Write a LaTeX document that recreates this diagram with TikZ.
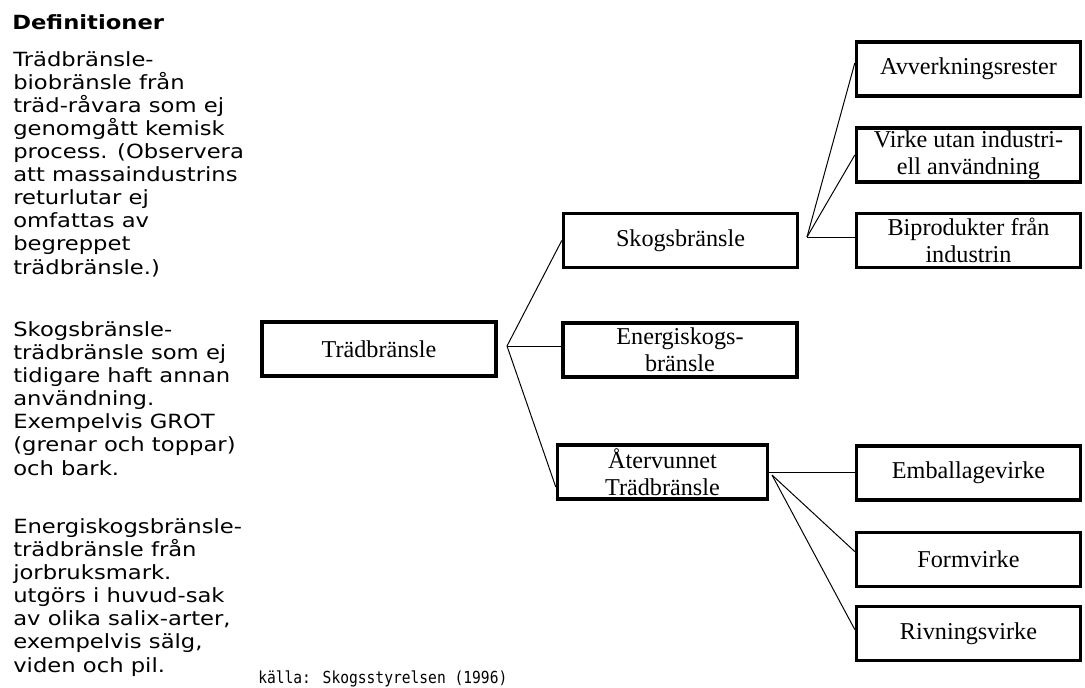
\documentclass[tikz,border=0pt]{standalone}
\usepackage{fontspec}
\setmainfont{Liberation Serif}
\newfontfamily\verd[FakeStretch=1.16]{DejaVu Sans}
\newfontfamily\mono[FakeStretch=0.88]{DejaVu Sans Mono}
\begin{document}
\begin{tikzpicture}[x=0.025cm,y=-0.025cm,
    ruta/.style={draw,rectangle,line width=2.4pt,minimum height=1.35cm,inner sep=0pt,align=center,font=\fontsize{17.2}{19.4}\selectfont},
    def/.style={anchor=base west,inner sep=0pt,align=left,font=\verd\fontsize{13.9}{16.4}\selectfont},
    lank/.style={line width=0.7pt}]
            \useasboundingbox (0,0) rectangle (1085,687);
            \node[def,font=\verd\bfseries\fontsize{13.9}{16.4}\selectfont] (rubrik) at (12,29) {Definitioner};
            \node[def] (def1) at (13,274) {Trädbränsle-\\biobränsle från\\träd-råvara som ej\\genomgått kemisk\\process. (Observera\\att massaindustrins\\returlutar ej\\omfattas av\\begreppet\\trädbränsle.)};
            \node[def] (def2) at (13,475) {Skogsbränsle-\\trädbränsle som ej\\tidigare haft annan\\användning.\\Exempelvis GROT\\(grenar och toppar)\\och bark.};
            \node[def] (def3) at (13,672) {Energiskogsbränsle-\\trädbränsle från\\jorbruksmark.\\utgörs i huvud-sak\\av olika salix-arter,\\exempelvis sälg,\\viden och pil.};
            \node[anchor=base west,inner sep=0pt,font=\mono\fontsize{11.8}{13}\selectfont] (kalla) at (258,683) {källa: Skogsstyrelsen (1996)};
            \node[ruta,minimum width=5.85cm] (trad) at (379,349) {Trädbränsle};
            \node[ruta,minimum width=5.85cm] (skog) at (680.5,240.5) {Skogsbränsle};
            \node[ruta,minimum width=5.85cm] (energi) at (680,350) {Energiskogs-\\bränsle};
            \node[ruta,minimum width=5.25cm] (aterv) at (662.5,472) {Återvunnet\\Trädbränsle};
            \node[ruta,minimum width=5.6cm] (avv) at (968.5,69) {Avverkningsrester};
            \node[ruta,minimum width=5.6cm] (virke) at (968.5,155) {Virke utan industri-\\ell användning};
            \node[ruta,minimum width=5.6cm] (bipro) at (968.5,240.5) {Biprodukter från\\industrin};
            \node[ruta,minimum width=5.6cm] (emb) at (968.5,473) {Emballagevirke};
            \node[ruta,minimum width=5.6cm] (form) at (968.5,559.5) {Formvirke};
            \node[ruta,minimum width=5.6cm] (riv) at (968.5,633.5) {Rivningsvirke};
            \coordinate (g1) at (507,346);
            \coordinate (g2) at (807,237);
            \coordinate (g3) at (772,475);
            \draw[lank] (g1) -- (skog.west);
            \draw[lank] (g1) -- (g1 -| energi.west);
            \draw[lank] (g1) -- (aterv.188);
            \draw[lank] (g2) -- (avv.177);
            \draw[lank] (g2) -- (virke.west);
            \draw[lank] (g2) -- (g2 -| bipro.west);
            \draw[lank] (aterv.east) -- (aterv.east -| emb.west);
            \draw[lank] (g3) -- (form.176);
            \draw[lank] (g3) -- (riv.178);
        \end{tikzpicture}
\end{document}
